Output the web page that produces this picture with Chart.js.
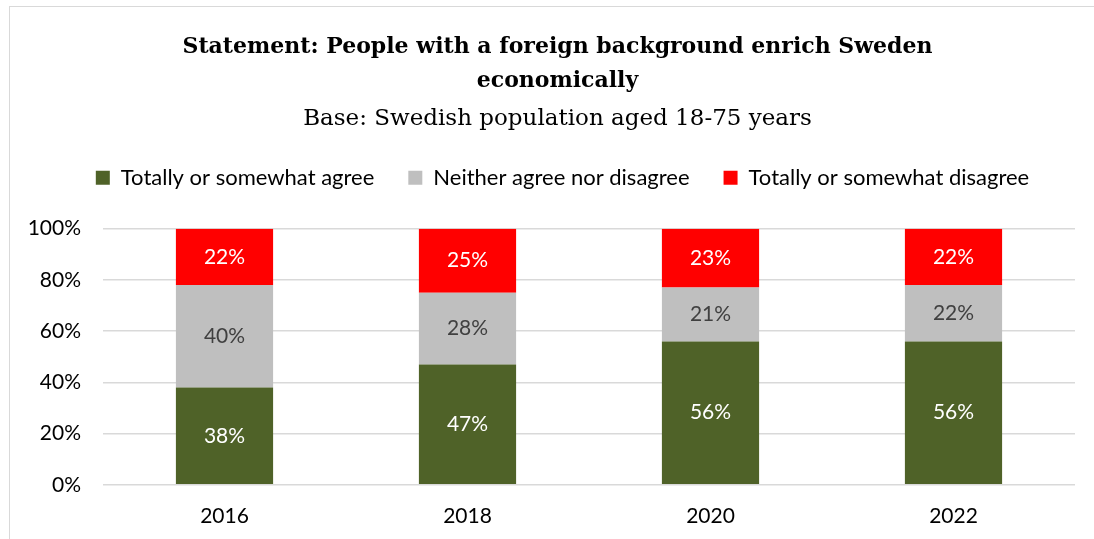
<!DOCTYPE html>
<html>
<head>
<meta charset="utf-8">
<script src="https://cdn.jsdelivr.net/npm/chart.js@4/dist/chart.umd.min.js"></script>
<style>
  html, body { margin: 0; padding: 0; background: #fff; }
  #wrap { position: relative; width: 1094px; height: 539px; }
  #frame { position: absolute; left: 9px; top: 6px; width: 1100px; height: 560px; border: 1.5px solid #d9d9d9; box-sizing: border-box; }
  canvas { position: absolute; left: 0; top: 0; }
</style>
</head>
<body>
<div id="wrap">
  <div id="frame"></div>
  <canvas id="chart" width="1094" height="539"></canvas>
</div>
<script>
const years = ['2016', '2018', '2020', '2022'];
const agree = [38, 47, 56, 56];
const neither = [40, 28, 21, 22];
const disagree = [22, 25, 23, 22];
const yTicks = [0, 20, 40, 60, 80, 100];

const sansFont = "Lato, 'Open Sans', sans-serif";
const serifFont = "'DejaVu Serif', serif";

// values printed in the middle of each segment
const barLabels = {
  id: 'barLabels',
  afterDatasetsDraw(chart) {
    const ctx = chart.ctx;
    ctx.save();
    ctx.font = '21px ' + sansFont;
    ctx.textAlign = 'center';
    ctx.textBaseline = 'middle';
    chart.data.datasets.forEach((ds, i) => {
      chart.getDatasetMeta(i).data.forEach((bar, j) => {
        const y = (bar.y + bar.base) / 2;
        ctx.fillStyle = ds.labelColor;
        ctx.fillText(ds.data[j] + '%', bar.x, y);
      });
    });
    ctx.restore();
  }
};

// extra room between the legend and the plot, and headings nudged right
const headerLayout = {
  id: 'headerLayout',
  beforeInit(chart) {
    const fit = chart.legend.fit;
    chart.legend.fit = function () {
      fit.call(this);
      this.height += 30;
    };
  },
  afterLayout(chart) {
    chart.boxes.filter(b => !b.axis).forEach(b => {
      const shift = b.legendItems ? 15 : 10;
      b.left += shift;
      b.right += shift;
    });
  }
};

new Chart(document.getElementById('chart'), {
  type: 'bar',
  data: {
    labels: years,
    datasets: [
      { label: 'Totally or somewhat agree', data: agree, backgroundColor: '#4f6228', labelColor: '#ffffff' },
      { label: 'Neither agree nor disagree', data: neither, backgroundColor: '#bfbfbf', labelColor: '#404040' },
      { label: 'Totally or somewhat disagree', data: disagree, backgroundColor: '#ff0000', labelColor: '#ffffff' }
    ]
  },
  options: {
    responsive: false,
    animation: false,
    layout: { padding: { left: 20, right: 19, top: 30, bottom: -1 } },
    datasets: { bar: { barPercentage: 0.4, categoryPercentage: 1 } },
    scales: {
      x: {
        stacked: true,
        grid: { display: false },
        border: { display: false },
        ticks: { color: '#000', font: { family: sansFont, size: 21 }, padding: 11 }
      },
      y: {
        stacked: true,
        min: 0,
        max: 100,
        afterBuildTicks: axis => { axis.ticks = yTicks.map(v => ({ value: v })); },
        afterFit: axis => { axis.width = 83; },
        grid: { color: '#d9d9d9', lineWidth: 1.5, drawTicks: false },
        border: { display: false },
        ticks: { color: '#000', font: { family: sansFont, size: 21 }, padding: 22, callback: v => v + '%' }
      }
    },
    plugins: {
      title: {
        display: true,
        text: ['Statement: People with a foreign background enrich Sweden', 'economically'],
        color: '#000',
        font: { family: serifFont, size: 22, weight: 'bold', lineHeight: 1.55 },
        padding: { top: 0, bottom: 4 }
      },
      subtitle: {
        display: true,
        text: 'Base: Swedish population aged 18-75 years',
        color: '#000',
        font: { family: serifFont, size: 23, lineHeight: 1.5 },
        padding: { top: 0, bottom: -4 }
      },
      legend: {
        position: 'top',
        labels: {
          color: '#000',
          boxWidth: 14,
          boxHeight: 14,
          padding: 34,
          font: { family: sansFont, size: 22 }
        }
      },
      tooltip: { enabled: false }
    }
  },
  plugins: [barLabels, headerLayout]
});
</script>
</body>
</html>
